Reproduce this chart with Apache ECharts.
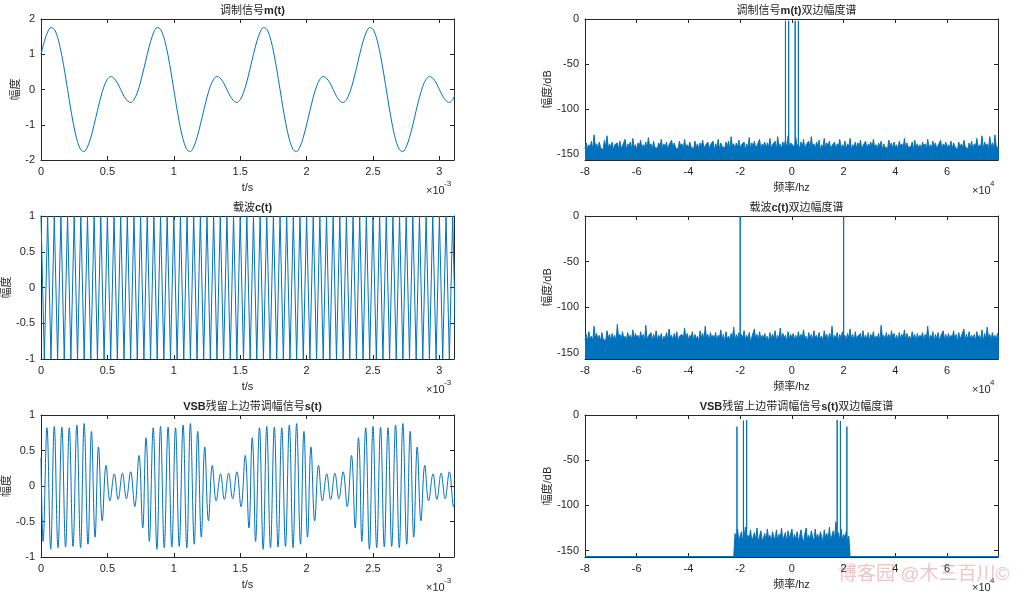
<!DOCTYPE html>
<html lang="zh">
  <head>
    <meta charset="UTF-8" />
    <title>VSB残留边带调制</title>
    <script src="https://cdn.jsdelivr.net/npm/echarts@6/dist/echarts.min.js"></script>
  </head>
  <body style="margin: 0">
    <div id="main" style="width: 1024px; height: 594px"></div>
    <script>
      // 时间轴采样间隔 (ms)
      const dt = 0.025

      // 调制信号 m(t)，每 0.025ms 一个点
      const mValues = [
        1.00, 1.36, 1.63, 1.76, 1.71, 1.48, 1.09, 0.58, 0.00, -0.58, -1.09, -1.48, -1.71, -1.76, -1.63, -1.36,
        -1.00, -0.60, -0.22, 0.09, 0.29, 0.37, 0.32, 0.19, 0.00, -0.19, -0.32, -0.37, -0.29, -0.09, 0.22, 0.60,
        1.00, 1.36, 1.63, 1.76, 1.71, 1.48, 1.09, 0.58, 0.00, -0.58, -1.09, -1.48, -1.71, -1.76, -1.63, -1.36,
        -1.00, -0.60, -0.22, 0.09, 0.29, 0.37, 0.32, 0.19, 0.00, -0.19, -0.32, -0.37, -0.29, -0.09, 0.22, 0.60,
        1.00, 1.36, 1.63, 1.76, 1.71, 1.48, 1.09, 0.58, 0.00, -0.58, -1.09, -1.48, -1.71, -1.76, -1.63, -1.36,
        -1.00, -0.60, -0.22, 0.09, 0.29, 0.37, 0.32, 0.19, 0.00, -0.19, -0.32, -0.37, -0.29, -0.09, 0.22, 0.60,
        1.00, 1.36, 1.63, 1.76, 1.71, 1.48, 1.09, 0.58, 0.00, -0.58, -1.09, -1.48, -1.71, -1.76, -1.63, -1.36,
        -1.00, -0.60, -0.22, 0.09, 0.29, 0.37, 0.32, 0.19, 0.00, -0.19, -0.32, -0.37, -0.29, -0.09, 0.22, 0.60,
      ]

      // 载波 c(t) 的峰谷值，每 0.025ms 一个
      const cValues = [
        1, -1, 1, -1, 1, -1, 1, -1, 1, -1, 1, -1, 1, -1, 1, -1, 1, -1, 1, -1, 1, -1, 1, -1, 1, -1, 1, -1, 1, -1, 1, -1,
        1, -1, 1, -1, 1, -1, 1, -1, 1, -1, 1, -1, 1, -1, 1, -1, 1, -1, 1, -1, 1, -1, 1, -1, 1, -1, 1, -1, 1, -1, 1, -1,
        1, -1, 1, -1, 1, -1, 1, -1, 1, -1, 1, -1, 1, -1, 1, -1, 1, -1, 1, -1, 1, -1, 1, -1, 1, -1, 1, -1, 1, -1, 1, -1,
        1, -1, 1, -1, 1, -1, 1, -1, 1, -1, 1, -1, 1, -1, 1, -1, 1, -1, 1, -1, 1, -1, 1, -1, 1, -1, 1, -1, 1, -1, 1, -1,
      ]

      // VSB 信号 s(t) 的极值点 (时间 ms, 幅度)
      const sTimes = [
        0, 0.016, 0.045, 0.073, 0.100, 0.128, 0.157, 0.185, 0.213, 0.241, 0.270, 0.298, 0.325, 0.354, 0.380,
        0.407, 0.433, 0.461, 0.490, 0.519, 0.552, 0.581, 0.613, 0.643, 0.675, 0.706, 0.738, 0.766, 0.791,
        0.800, 0.816, 0.845, 0.873, 0.900, 0.928, 0.957, 0.985, 1.013, 1.041, 1.070, 1.098, 1.125, 1.154, 1.180,
        1.207, 1.233, 1.261, 1.290, 1.319, 1.352, 1.381, 1.413, 1.443, 1.475, 1.506, 1.538, 1.566, 1.591,
        1.600, 1.616, 1.645, 1.673, 1.700, 1.728, 1.757, 1.785, 1.813, 1.841, 1.870, 1.898, 1.925, 1.954, 1.980,
        2.007, 2.033, 2.061, 2.090, 2.119, 2.152, 2.181, 2.213, 2.243, 2.275, 2.306, 2.338, 2.366, 2.391,
        2.400, 2.416, 2.445, 2.473, 2.500, 2.528, 2.557, 2.585, 2.613, 2.641, 2.670, 2.698, 2.725, 2.754, 2.780,
        2.807, 2.833, 2.861, 2.890, 2.919, 2.952, 2.981, 3.013, 3.043, 3.075, 3.106, 3.138, 3.166, 3.191,
      ]
      const sValues = [
        0.40, -0.78, 0.82, -0.89, 0.84, -0.87, 0.83, -0.86, 0.82, -0.85, 0.86, -0.87, 0.88, -0.82, 0.77,
        -0.72, 0.55, -0.49, 0.29, -0.21, 0.17, -0.19, 0.18, -0.18, 0.20, -0.29, 0.43, -0.59, 0.68,
        0.40, -0.78, 0.82, -0.89, 0.84, -0.87, 0.83, -0.86, 0.82, -0.85, 0.86, -0.87, 0.88, -0.82, 0.77,
        -0.72, 0.55, -0.49, 0.29, -0.21, 0.17, -0.19, 0.18, -0.18, 0.20, -0.29, 0.43, -0.59, 0.68,
        0.40, -0.78, 0.82, -0.89, 0.84, -0.87, 0.83, -0.86, 0.82, -0.85, 0.86, -0.87, 0.88, -0.82, 0.77,
        -0.72, 0.55, -0.49, 0.29, -0.21, 0.17, -0.19, 0.18, -0.18, 0.20, -0.29, 0.43, -0.59, 0.68,
        0.40, -0.78, 0.82, -0.89, 0.84, -0.87, 0.83, -0.86, 0.82, -0.85, 0.86, -0.87, 0.88, -0.82, 0.77,
        -0.72, 0.55, -0.49, 0.29, -0.21, 0.17, -0.19, 0.18, -0.18, 0.20, -0.29, 0.43, -0.59, 0.68,
      ]

      // 频谱底噪 (dB)，从 -80000Hz 起每 500Hz 一个
      const specStart = -80000
      const specStep = 500
      const mNoise = [
        -144, -138, -145, -140, -143, -136, -146, -129, -142, -139, -145, -137, -143, -141, -146, -135, -142, -130, -144, -139,
        -143, -137, -146, -140, -142, -138, -145, -136, -144, -141, -143, -134, -146, -139, -142, -137, -145, -133, -143, -140,
        -146, -138, -142, -135, -144, -140, -143, -137, -145, -132, -142, -139, -146, -136, -143, -141, -144, -138, -142, -134,
        -145, -139, -143, -137, -146, -140, -142, -135, -144, -138, -143, -141, -145, -136, -142, -139, -146, -134, -143, -140,
        -144, -137, -142, -140, -145, -136, -143, -139, -146, -138, -142, -135, -144, -141, -143, -137, -145, -140, -142, -136,
        -146, -139, -143, -134, -145, -138, -142, -140, -144, -137, -143, -136, -146, -131, -142, -139, -145, -138, -143, -135,
        -144, -140, -142, -137, -146, -139, -143, -132, -145, -138, -142, -136, -144, -141, -143, -134, -146, -139, -142, -137,
        -145, -138, -143, -133, -144, -140, -142, -136, -146, -131, -143, -139, -145, -137, -142, -135, -144, -130, -143, -138,
        -136, -141, -144, -132, -142, -139, -145, -137, -143, -134, -146, -140, -142, -136, -144, -131, -143, -139, -145, -137,
        -142, -135, -146, -140, -143, -133, -144, -138, -142, -136, -145, -141, -143, -137, -146, -139, -142, -134, -144, -140,
        -143, -136, -145, -139, -142, -133, -146, -140, -143, -137, -144, -138, -142, -135, -145, -141, -143, -136, -146, -139,
        -142, -137, -144, -134, -143, -140, -145, -138, -142, -136, -146, -139, -143, -141, -144, -135, -142, -138, -145, -137,
        -143, -140, -146, -136, -142, -139, -144, -133, -145, -138, -143, -141, -142, -137, -146, -135, -143, -139, -144, -140,
        -145, -137, -142, -139, -146, -134, -143, -140, -144, -136, -142, -138, -145, -141, -143, -135, -146, -139, -142, -137,
        -144, -140, -143, -136, -145, -138, -142, -141, -146, -137, -143, -139, -144, -135, -142, -140, -145, -138, -143, -136,
        -146, -139, -142, -133, -144, -140, -143, -130, -145, -137, -142, -139, -146, -131, -143, -138, -144, -129, -142, -140,
        -144,
      ]
      const cNoise = [
        -136, -130, -138, -127, -135, -132, -137, -121, -134, -129, -136, -131, -138, -128, -135, -133, -137, -126, -134, -130,
        -137, -129, -135, -131, -138, -119, -134, -130, -136, -127, -135, -132, -137, -128, -134, -131, -136, -125, -135, -129,
        -134, -131, -137, -127, -135, -130, -138, -120, -136, -132, -134, -128, -137, -130, -135, -126, -136, -131, -134, -129,
        -138, -132, -135, -128, -136, -124, -134, -131, -137, -129, -135, -127, -138, -132, -134, -130, -136, -123, -135, -129,
        -136, -131, -134, -127, -137, -130, -135, -132, -138, -126, -134, -129, -136, -121, -135, -130, -137, -128, -134, -131,
        -135, -128, -137, -131, -134, -125, -136, -130, -138, -127, -135, -132, -136, -129, -134, -122, -137, -130, -135, -128,
        -137, -130, -134, -126, -136, -131, -135, -128, -138, -133, -134, -124, -136, -130, -137, -127, -135, -131, -134, -129,
        -136, -132, -138, -128, -135, -130, -134, -126, -137, -131, -135, -123, -136, -129, -134, -131, -138, -127, -135, -130,
        -134, -129, -136, -131, -137, -127, -135, -130, -134, -125, -136, -132, -138, -128, -135, -130, -137, -126, -134, -131,
        -136, -128, -135, -132, -137, -126, -134, -130, -138, -129, -135, -121, -136, -131, -134, -128, -137, -130, -135, -127,
        -135, -131, -137, -129, -134, -124, -136, -130, -138, -127, -135, -132, -134, -129, -137, -126, -135, -131, -136, -128,
        -137, -130, -134, -127, -136, -132, -135, -129, -138, -120, -134, -131, -136, -128, -135, -130, -137, -126, -134, -129,
        -136, -131, -138, -128, -135, -130, -134, -125, -137, -129, -135, -132, -136, -127, -134, -130, -138, -129, -135, -131,
        -134, -128, -137, -130, -135, -121, -136, -131, -134, -127, -138, -130, -135, -128, -137, -132, -134, -126, -136, -130,
        -137, -129, -135, -131, -134, -126, -136, -130, -138, -128, -135, -132, -134, -124, -137, -130, -136, -127, -135, -131,
        -135, -130, -137, -127, -134, -131, -136, -125, -138, -129, -135, -122, -134, -130, -137, -128, -135, -131, -136, -129,
        -134,
      ]
      // VSB 频谱：带内噪声从 -22000Hz 起每 500Hz 一个，带外为平底
      const sBandStart = -22000
      const sBandStep = 500
      const sNoise = [
        -131, -138, -126, -140, -134, -129, -141, -136, -124, -139, -133, -137, -127, -140, -135, -130, -138, -125, -141, -134,
        -128, -139, -136, -131, -140, -126, -137, -133, -141, -129, -135, -138, -127, -140, -132, -136, -125, -139, -134, -130,
        -141, -128, -137, -135, -126, -139, -132, -138, -129, -140, -134, -127, -136, -141, -131, -125, -138, -133, -139, -128,
        -135, -140, -126, -137, -132, -139, -129, -134, -141, -127, -136, -131, -138, -124, -140, -133, -128, -137, -118, -135,
        -130, -139, -126, -138, -132, -136, -129, -140, -134,
      ]
      const sFloor = -156.5

      // 谱线位置 (Hz) 与峰值 (dB)
      const mLineFreqs = [-2500, -1250, 1250, 2500]
      const mLinePeaks = [-2, -2, -2, -2]
      const cLineFreqs = [-20000, 20000]
      const cLinePeaks = [0, 0]
      const sLineFreqs = [-21250, -18750, -17500, 17500, 18750, 21250]
      const sLinePeaks = [-12.8, -6.2, -5.5, -5.5, -6.6, -12.8]

      const titles = [
        '调制信号m(t)',
        '调制信号m(t)双边幅度谱',
        '载波c(t)',
        '载波c(t)双边幅度谱',
        'VSB残留上边带调幅信号s(t)',
        'VSB残留上边带调幅信号s(t)双边幅度谱',
      ]

      const lineColor = '#0072BD'
      const textColor = '#262626'
      const font = "'Liberation Sans', Arial, 'Noto Sans CJK SC', sans-serif"

      const grids = [
        { left: 41, top: 19, width: 413, height: 141 },
        { left: 585, top: 19, width: 413, height: 141 },
        { left: 41, top: 216, width: 413, height: 143 },
        { left: 585, top: 216, width: 413, height: 143 },
        { left: 41, top: 415, width: 413, height: 142 },
        { left: 585, top: 415, width: 413, height: 142 },
      ]

      const onStep = (v, step) => Math.abs(v / step - Math.round(v / step)) < 1e-6

      // 坐标轴范围
      const timeX = { min: 0, max: 3.11, interval: 0.5, name: 't/s', gap: 22, fmt: v => (onStep(v, 0.5) ? String(v) : '') }
      const freqX = {
        min: -80000, max: 79680, interval: 20000, name: '频率/hz', gap: 22,
        fmt: v => (onStep(v, 20000) ? String(v / 10000) : ''),
      }
      const dbFmt = v => (onStep(v, 50) ? String(v) : '')
      const yAxes = [
        { min: -2, max: 2, interval: 1, name: '幅度', gap: 17 },
        { min: -157, max: 0, nice: 50, name: '幅度/dB', gap: 29, fmt: dbFmt },
        { min: -1, max: 1, interval: 0.5, name: '幅度', gap: 17 },
        { min: -157, max: 0, nice: 50, name: '幅度/dB', gap: 29, fmt: dbFmt },
        { min: -1, max: 1, interval: 0.5, name: '幅度', gap: 17 },
        { min: -157, max: 0, nice: 50, name: '幅度/dB', gap: 29, fmt: dbFmt },
      ]

      function makeAxis(gridIndex, position, cfg, mirror) {
        const ax = {
          type: 'value',
          gridIndex,
          position,
          min: cfg.min,
          max: cfg.max,
          axisLine: { show: true, onZero: false, lineStyle: { color: textColor, width: 1 } },
          axisTick: { show: true, inside: true, length: 4, lineStyle: { color: textColor } },
          splitLine: { show: false },
          axisLabel: {
            show: !mirror,
            color: textColor,
            fontSize: 11,
            fontFamily: font,
            margin: 6,
          },
        }
        if (cfg.interval) ax.interval = cfg.interval
        if (cfg.nice) {
          ax.splitNumber = 3
          ax.minInterval = cfg.nice
          ax.maxInterval = cfg.nice
        }
        if (cfg.fmt) ax.axisLabel.formatter = cfg.fmt
        if (!mirror) {
          ax.name = cfg.name
          ax.nameLocation = 'middle'
          ax.nameGap = cfg.gap
          ax.nameTextStyle = { color: textColor, fontSize: 11, fontFamily: font }
        }
        return ax
      }

      const xAxis = []
      const yAxis = []
      grids.forEach((g, i) => {
        const xc = i % 2 === 0 ? timeX : freqX
        xAxis.push(makeAxis(i, 'bottom', xc, false), makeAxis(i, 'top', xc, true))
        yAxis.push(makeAxis(i, 'left', yAxes[i], false), makeAxis(i, 'right', yAxes[i], true))
      })

      // 标题：英文部分加粗
      function richTitle(s) {
        let out = ''
        let cur = ''
        let ascii = null
        for (const ch of s) {
          const a = ch.charCodeAt(0) < 128
          if (ascii !== null && a !== ascii) {
            out += `{${ascii ? 'en' : 'zh'}|${cur}}`
            cur = ''
          }
          ascii = a
          cur += ch
        }
        return out + `{${ascii ? 'en' : 'zh'}|${cur}}`
      }

      const title = grids.map((g, i) => ({
        text: richTitle(titles[i]),
        left: g.left + g.width / 2,
        top: g.top - 19,
        textAlign: 'center',
        textStyle: {
          rich: {
            en: { fontSize: 11, fontWeight: 'bold', color: textColor, fontFamily: font },
            zh: { fontSize: 11, fontWeight: 'normal', color: textColor, fontFamily: font },
          },
        },
      }))

      const timeLine = (data, gi, smooth) => ({
        type: 'line',
        xAxisIndex: gi * 2,
        yAxisIndex: gi * 2,
        data,
        symbol: 'none',
        smooth,
        lineStyle: { color: lineColor, width: 1 },
        silent: true,
      })

      const noiseLine = (data, gi) => ({
        type: 'line',
        xAxisIndex: gi * 2,
        yAxisIndex: gi * 2,
        data,
        symbol: 'none',
        lineStyle: { color: lineColor, width: 1 },
        areaStyle: { color: lineColor, opacity: 1, origin: 'start' },
        silent: true,
      })

      function stems(freqs, peaks, base) {
        const d = []
        freqs.forEach((f, i) => {
          d.push([f, base], [f, peaks[i]], [f, base], null)
        })
        return d
      }

      const mData = mValues.map((v, i) => [i * dt, v])
      const cData = cValues.map((v, i) => [i * dt, v])
      const sData = sTimes.map((t, i) => [t, sValues[i]])
      const mSpec = mNoise.map((v, i) => [specStart + i * specStep, v])
      const cSpec = cNoise.map((v, i) => [specStart + i * specStep, v])
      const sBand = sNoise.map((v, i) => [sBandStart + i * sBandStep, v])
      const sSpec = [[-80000, sFloor], [-22500, sFloor], ...sBand, [22500, sFloor], [80000, sFloor]]

      const series = [
        timeLine(mData, 0, 0.3),
        noiseLine(mSpec, 1),
        timeLine(stems(mLineFreqs, mLinePeaks, -144), 1, false),
        timeLine(cData, 2, false),
        noiseLine(cSpec, 3),
        timeLine(stems(cLineFreqs, cLinePeaks, -135), 3, false),
        timeLine(sData, 4, 0.4),
        noiseLine(sSpec, 5),
        timeLine(stems(sLineFreqs, sLinePeaks, -138), 5, false),
      ]

      // ×10^n 指数标记
      const graphic = []
      grids.forEach((g, i) => {
        const bottom = g.top + g.height
        const right = g.left + g.width
        const exp = i % 2 === 0 ? '-3' : '4'
        const x0 = i % 2 === 0 ? right - 28 : right - 26
        graphic.push({
          type: 'text',
          x: x0,
          y: bottom + 25,
          style: { text: '×10', fontSize: 11, fill: textColor, fontFamily: font },
        })
        graphic.push({
          type: 'text',
          x: x0 + 18,
          y: bottom + 20,
          style: { text: exp, fontSize: 8, fill: textColor, fontFamily: font },
        })
      })
      graphic.push({
        type: 'text',
        x: 838,
        y: 565,
        style: { text: '博客园 @木三百川©', fontSize: 19, fill: 'rgba(222,140,140,0.5)', fontFamily: font },
      })

      const chart = echarts.init(document.getElementById('main'))
      chart.setOption({
        animation: false,
        backgroundColor: '#ffffff',
        title,
        grid: grids,
        xAxis,
        yAxis,
        series,
        graphic,
      })
    </script>
  </body>
</html>
